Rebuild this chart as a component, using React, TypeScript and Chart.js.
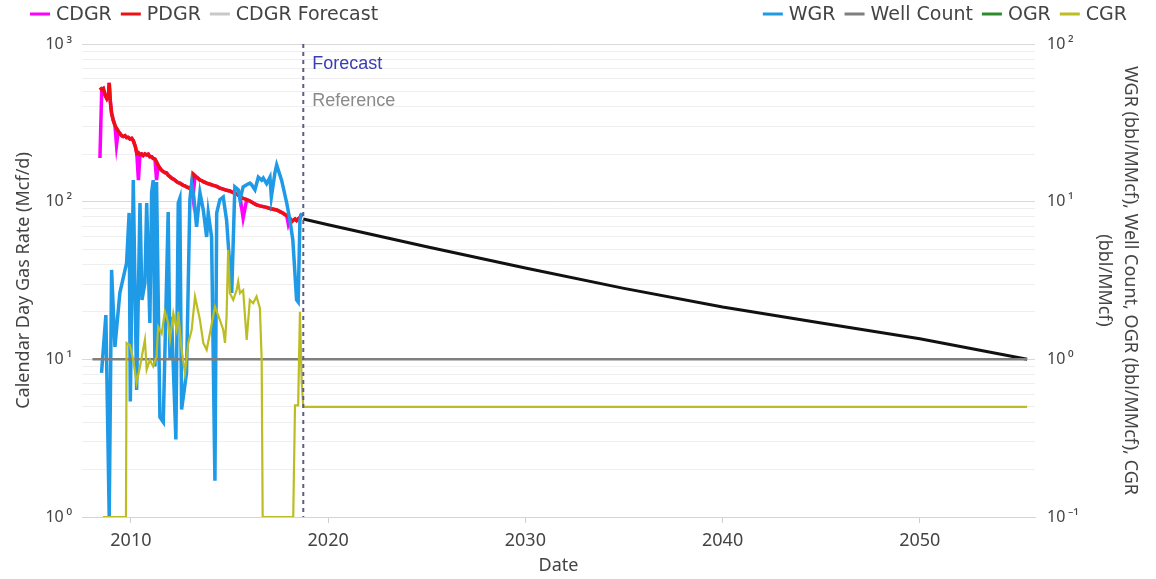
import { useEffect, useRef } from 'react';
import { Chart, registerables } from 'chart.js';

Chart.register(...registerables);

// ---------- data ----------
const forecastStart = 2018.74;
const xTicks = [2010, 2020, 2030, 2040, 2050];
const rightTicks = [0.1, 1, 10, 100];

// PDGR (Mcf/d): [year, value]
const pdgr: [number, number][] = [
  [2008.43, 530], [2008.52, 515], [2008.6, 522], [2008.7, 470], [2008.78, 450], [2008.86, 470], [2008.9, 566],
  [2008.95, 440], [2009.02, 364], [2009.1, 330], [2009.19, 305], [2009.27, 292], [2009.36, 280], [2009.44, 271],
  [2009.53, 262], [2009.61, 259], [2009.7, 262], [2009.78, 255], [2009.86, 256], [2009.95, 250], [2010.04, 252],
  [2010.12, 244], [2010.22, 225], [2010.3, 202], [2010.38, 205], [2010.46, 199], [2010.54, 201], [2010.62, 196],
  [2010.71, 201], [2010.8, 198], [2010.88, 200], [2010.96, 193], [2011.05, 193], [2011.13, 188], [2011.22, 186],
  [2011.3, 179], [2011.38, 170], [2011.47, 163], [2011.56, 158], [2011.64, 155], [2011.72, 153], [2011.81, 152],
  [2011.89, 147], [2011.98, 144], [2012.06, 141], [2012.15, 139], [2012.23, 137], [2012.32, 134], [2012.4, 132],
  [2012.48, 131], [2012.57, 129], [2012.65, 127], [2012.74, 126], [2012.82, 124], [2012.91, 123], [2012.99, 121],
  [2013.08, 126], [2013.15, 150], [2013.25, 146], [2013.33, 143], [2013.42, 140], [2013.5, 137], [2013.59, 136],
  [2013.67, 134], [2013.84, 131], [2014.01, 129], [2014.18, 127], [2014.35, 125], [2014.51, 122], [2014.68, 120],
  [2014.85, 118], [2015.02, 117], [2015.19, 114], [2015.36, 112], [2015.53, 108], [2015.69, 105], [2015.87, 103],
  [2016.03, 101], [2016.2, 98], [2016.37, 95.4], [2016.54, 94], [2016.71, 93], [2016.88, 92], [2017.05, 90.5],
  [2017.22, 89.5], [2017.39, 88.6], [2017.56, 86.5], [2017.72, 84.4], [2017.9, 81.5], [2017.98, 80.3], [2018.07, 78],
  [2018.15, 74.7], [2018.24, 76.5], [2018.32, 77.7], [2018.4, 76], [2018.49, 78], [2018.57, 79], [2018.66, 83.6],
];

// CDGR months where calendar-day rate falls below producing-day rate
const cdgrDips: [number, number][] = [
  [2008.43, 189], [2009.27, 229], [2010.38, 137], [2011.3, 137], [2013.15, 107], [2015.69, 78.8], [2017.98, 72],
];

// CDGR forecast (Mcf/d)
const cdgrForecast: [number, number][] = [
  [2018.74, 77.6], [2020, 71.4], [2025, 51.8], [2030, 38.0], [2035, 28.2], [2040, 21.5], [2045, 17.0], [2050, 13.5], [2055.44, 10.0],
];

// WGR (bbl/MMcf)
const wgr: [number, number][] = [
  [2008.51, 0.82], [2008.73, 1.91], [2008.9, 0], [2009.02, 3.69], [2009.19, 1.2], [2009.44, 2.64], [2009.78, 4.08],
  [2009.91, 8.48], [2009.97, 0.54], [2010.12, 13.7], [2010.29, 0.64], [2010.46, 9.81], [2010.56, 2.38], [2010.71, 3.05],
  [2010.8, 9.81], [2010.96, 1.7], [2011.05, 11.4], [2011.13, 13.7], [2011.22, 0.9], [2011.3, 13.3], [2011.47, 0.43],
  [2011.64, 0.4], [2011.89, 8.6], [2011.98, 0.99], [2012.06, 1.86], [2012.28, 0.31], [2012.4, 9.81], [2012.48, 10.5],
  [2012.57, 0.48], [2012.82, 0.82], [2012.99, 10.3], [2013.08, 13.1], [2013.19, 10.7], [2013.33, 6.92], [2013.5, 11.4],
  [2013.67, 8.85], [2013.84, 5.97], [2013.92, 8.48], [2014.09, 5.97], [2014.26, 0.17], [2014.35, 8.48], [2014.51, 10.3],
  [2014.68, 10.7], [2014.85, 7.66], [2015.11, 2.64], [2015.27, 12.4], [2015.44, 11.9], [2015.53, 10.3], [2015.69, 12.4],
  [2015.87, 12.8], [2016.03, 13.1], [2016.12, 12.8], [2016.29, 11.9], [2016.46, 14.3], [2016.63, 13.7], [2016.71, 14.1],
  [2016.88, 13.0], [2017.05, 14.3], [2017.12, 10.7], [2017.3, 15.2], [2017.39, 17.1], [2017.64, 13.7], [2017.9, 9.81],
  [2018.06, 7.66], [2018.21, 5.71], [2018.4, 2.38], [2018.48, 2.31], [2018.57, 7.66], [2018.66, 8.48],
];

// Well count
const wellCount: [number, number][] = [[2008.05, 1], [2055.44, 1]];

// OGR (bbl/MMcf) - no data
const ogr: [number, number][] = [];

// CGR (bbl/MMcf), history + forecast
const cgr: [number, number][] = [
  [2008.58, 0], [2009.75, 0], [2009.78, 1.27], [2009.95, 1.23], [2010.12, 0.99], [2010.29, 0.71], [2010.46, 0.9],
  [2010.71, 1.33], [2010.8, 0.86], [2010.96, 0.99], [2011.13, 0.9], [2011.3, 1.04], [2011.38, 1.61], [2011.56, 1.46],
  [2011.72, 2.0], [2011.89, 1.7], [2011.98, 1.33], [2012.15, 1.96], [2012.32, 1.54], [2012.4, 2.0], [2012.57, 1.15],
  [2012.74, 0.82], [2012.91, 1.27], [2013.08, 1.54], [2013.25, 2.5], [2013.5, 1.78], [2013.67, 1.27], [2013.84, 1.15],
  [2014.01, 1.47], [2014.26, 2.16], [2014.51, 1.78], [2014.68, 1.54], [2014.77, 1.27], [2014.85, 1.87], [2014.93, 4.94],
  [2015.02, 2.63], [2015.19, 2.38], [2015.36, 2.75], [2015.44, 3.11], [2015.53, 2.63], [2015.69, 2.75], [2015.87, 1.33],
  [2016.03, 2.38], [2016.2, 2.27], [2016.37, 2.5], [2016.54, 2.11], [2016.63, 0.99], [2016.68, 0], [2018.23, 0],
  [2018.32, 0.51], [2018.48, 0.51], [2018.57, 2.0], [2018.66, 0.71], [2018.74, 0.5], [2055.44, 0.5],
];

// ---------- helpers ----------
const LEFT_MIN = 1;
const RIGHT_MIN = 0.1;
const toXY = (arr: [number, number][], min: number) => arr.map(([x, y]) => ({ x, y: y > 0 ? y : min }));
const cdgr = pdgr.map(([x, y]) => {
  const d = cdgrDips.find((p) => p[0] === x);
  return [x, d ? d[1] : y] as [number, number];
});

const SUP: Record<string, string> = { '-': '⁻', '0': '⁰', '1': '¹', '2': '²', '3': '³', '4': '⁴' };
const isPow10 = (v: number) => Math.abs(Math.log10(v) - Math.round(Math.log10(v))) < 1e-9;
const fmtPow = (v: number) => {
  const e = String(Math.round(Math.log10(v)));
  return '10\u2009' + e.split('').map((c) => SUP[c] || c).join('');
};
const minorTicks = (lo: number, hi: number) => {
  const out: number[] = [];
  for (let d = lo; d < hi; d++) for (let m = 1; m <= 9; m++) out.push(m * Math.pow(10, d));
  out.push(Math.pow(10, hi));
  return out;
};

const TEXT = '#444';
const TITLE_FONT = { family: '"Noto Sans", sans-serif', size: 18 };
const TICK_FONT = { family: '"Noto Sans", sans-serif', size: 16 };

const legendPlugin = {
  id: 'customLegend',
  afterDraw(chart: any) {
    const ctx = chart.ctx as CanvasRenderingContext2D;
    ctx.save();
    ctx.font = '19px "DejaVu Sans"';
    ctx.textBaseline = 'middle';
    ctx.textAlign = 'left';
    const y = 14;
    const sw = 20, gap = 6, itemGap = 9;
    const ds = chart.data.datasets as any[];
    const draw = (items: any[], startX: number) => {
      let x = startX;
      items.forEach((d) => {
        ctx.strokeStyle = d.legendColor;
        ctx.lineWidth = 3;
        ctx.beginPath();
        ctx.moveTo(x, y);
        ctx.lineTo(x + sw, y);
        ctx.stroke();
        ctx.fillStyle = TEXT;
        ctx.fillText(d.label, x + sw + gap, y + 1);
        x += sw + gap + ctx.measureText(d.label).width + itemGap;
      });
    };
    const left = ds.filter((d) => d.legendGroup === 'left');
    const right = ds.filter((d) => d.legendGroup === 'right');
    draw(left, 30);
    const rw = right.reduce((s, d) => s + sw + gap + ctx.measureText(d.label).width + itemGap, 0) - itemGap;
    draw(right, 1127 - rw);
    ctx.restore();
  },
};

const annotationPlugin = {
  id: 'forecastLine',
  afterDatasetsDraw(chart: any) {
    const { ctx, chartArea, scales } = chart;
    const x = scales.x.getPixelForValue(forecastStart);
    ctx.save();
    ctx.strokeStyle = '#5c5c86';
    ctx.lineWidth = 2;
    ctx.setLineDash([4, 4]);
    ctx.beginPath();
    ctx.moveTo(x, chartArea.top);
    ctx.lineTo(x, chartArea.bottom);
    ctx.stroke();
    ctx.setLineDash([]);
    ctx.font = '18px "Liberation Sans", Arial, sans-serif';
    ctx.textBaseline = 'middle';
    ctx.textAlign = 'left';
    ctx.fillStyle = '#3c3cb4';
    ctx.fillText('Forecast', x + 9, chartArea.top + 20);
    ctx.fillStyle = '#8a8a8a';
    ctx.fillText('Reference', x + 9, chartArea.top + 57);
    ctx.restore();
  },
};

export default function App() {
  const ref = useRef<HTMLCanvasElement>(null);
  useEffect(() => {
    document.body.style.margin = '0';
    const line = { pointRadius: 0, tension: 0, fill: false, spanGaps: true };
    const chart = new Chart(ref.current as HTMLCanvasElement, {
      type: 'line',
      data: {
        datasets: [
          { ...line, label: 'CDGR', data: toXY(cdgr, LEFT_MIN), yAxisID: 'y', borderColor: '#ff00ff', borderWidth: 3.5, order: 7, legendGroup: 'left', legendColor: '#ff00ff' },
          { ...line, label: 'PDGR', data: toXY(pdgr, LEFT_MIN), yAxisID: 'y', borderColor: '#ee1111', borderWidth: 3.5, order: 6, legendGroup: 'left', legendColor: '#ee1111' },
          { ...line, label: 'CDGR Forecast', data: toXY(cdgrForecast, LEFT_MIN), yAxisID: 'y', borderColor: '#111', borderWidth: 3, order: 5, legendGroup: 'left', legendColor: '#c8c8c8' },
          { ...line, label: 'WGR', data: toXY(wgr, RIGHT_MIN), yAxisID: 'y1', borderColor: '#1f9ae6', borderWidth: 3.5, order: 4, legendGroup: 'right', legendColor: '#1f9ae6' },
          { ...line, label: 'Well Count', data: toXY(wellCount, RIGHT_MIN), yAxisID: 'y1', borderColor: '#7f7f7f', borderWidth: 2.5, order: 3, legendGroup: 'right', legendColor: '#7f7f7f' },
          { ...line, label: 'OGR', data: toXY(ogr, RIGHT_MIN), yAxisID: 'y1', borderColor: '#2e8b2e', borderWidth: 2, order: 2, legendGroup: 'right', legendColor: '#2e8b2e' },
          { ...line, label: 'CGR', data: toXY(cgr, RIGHT_MIN), yAxisID: 'y1', borderColor: '#bcbd22', borderWidth: 2.2, order: 1, legendGroup: 'right', legendColor: '#bcbd22' },
        ] as any,
      },
      options: {
        animation: false,
        responsive: false,
        devicePixelRatio: 1,
        parsing: false as any,
        normalized: true,
        layout: { padding: { top: 44, left: 0, right: 0, bottom: 0 } },
        plugins: { legend: { display: false }, tooltip: { enabled: false } },
        scales: {
          x: {
            type: 'linear',
            min: 2007.52,
            max: 2055.84,
            afterBuildTicks: (s: any) => { s.ticks = xTicks.map((v) => ({ value: v })); },
            afterFit: (s: any) => { s.height = 62; },
            ticks: { callback: (v: any) => String(v), color: TEXT, font: { ...TICK_FONT, size: 18 }, padding: 7, maxRotation: 0, autoSkip: false },
            grid: { drawOnChartArea: false, drawTicks: true, tickLength: 6, color: '#cfcfcf' },
            border: { display: true, color: '#d4d4d4' },
            title: { display: true, text: 'Date', color: TEXT, font: TITLE_FONT, padding: { top: 0, bottom: 2 } },
          },
          y: {
            type: 'logarithmic',
            position: 'left',
            min: 1,
            max: 1000,
            afterBuildTicks: (s: any) => { s.ticks = minorTicks(0, 3).map((v) => ({ value: v })); },
            afterFit: (s: any) => { s.width = 82; },
            ticks: { autoSkip: false, callback: (v: any) => (isPow10(v) ? fmtPow(v) : ''), color: TEXT, font: TICK_FONT, padding: 10 },
            grid: {
              drawTicks: false,
              color: (c: any) => (c.tick && isPow10(c.tick.value) ? '#d9d9d9' : '#efefef'),
              lineWidth: 1,
            },
            border: { display: false },
            title: { display: true, text: 'Calendar Day Gas Rate (Mcf/d)', color: TEXT, font: TITLE_FONT, padding: { top: 13, bottom: 0 } },
          },
          y1: {
            type: 'logarithmic',
            position: 'right',
            min: 0.1,
            max: 100,
            afterBuildTicks: (s: any) => { s.ticks = rightTicks.map((v) => ({ value: v })); },
            afterFit: (s: any) => { s.width = 121; },
            ticks: { autoSkip: false, callback: (v: any) => fmtPow(v), color: TEXT, font: TICK_FONT, padding: 12 },
            grid: { drawOnChartArea: false, drawTicks: false },
            border: { display: false },
            title: {
              display: true,
              text: ['WGR (bbl/MMcf), Well Count, OGR (bbl/MMcf), CGR', '(bbl/MMcf)'],
              color: TEXT,
              font: { ...TITLE_FONT, lineHeight: 1.45 },
              padding: { top: 13, bottom: 0 },
            },
          },
        },
      } as any,
      plugins: [legendPlugin, annotationPlugin],
    });
    return () => chart.destroy();
  }, []);
  return (
    <div style={{ width: 1156, height: 579 }}>
      <canvas ref={ref} width={1156} height={579} />
    </div>
  );
}
